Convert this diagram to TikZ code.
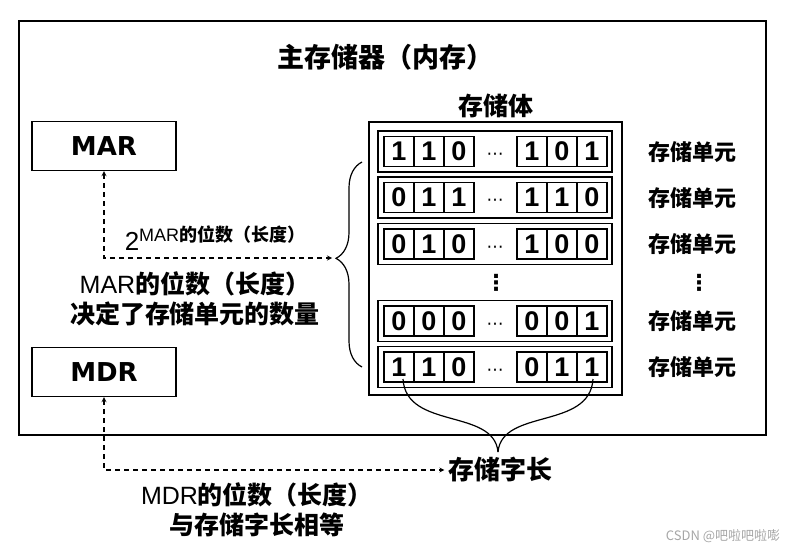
\documentclass[tikz,border=0pt]{standalone}
\usepackage{fontspec}
\setmainfont{Noto Sans CJK SC}
\newfontfamily\lat{Liberation Sans}
\newfontfamily\verd{DejaVu Sans}
\usetikzlibrary{positioning,decorations.pathreplacing,arrows}
\tikzstyle{reg} = [rectangle, minimum width=144pt, minimum height=49pt, text centered, draw=black, line width=1.3pt, font=\verd\bfseries\fontsize{26}{26}\selectfont]
\tikzstyle{rowbox} = [rectangle, minimum width=234pt, minimum height=41pt, draw=black, line width=1.3pt]
\tikzstyle{bit} = [rectangle, minimum width=30pt, minimum height=30pt, inner sep=0pt, draw=black, line width=1.6pt, font=\lat\bfseries\fontsize{27}{27}\selectfont]
\tikzstyle{unit} = [font=\bfseries\fontsize{22}{22}\selectfont]
\tikzstyle{txt} = [font=\bfseries\fontsize{25}{30}\selectfont, align=center]
\tikzstyle{dotsym} = [font=\verd\fontsize{17}{17}\selectfont, inner sep=0pt, yshift=-5pt]
\tikzstyle{vdotsym} = [font=\verd\bfseries\fontsize{22}{22}\selectfont, inner sep=0pt]
\tikzstyle{arrow} = [line width=1.2pt, dash pattern=on 5pt off 4pt, <->, >=stealth]

\begin{document}
\begin{tikzpicture}[x=1pt, y=-1pt, node distance=30pt]
\useasboundingbox (0,0) rectangle (801,551);
\node (mem) [rectangle, draw=black, line width=1.8pt, minimum width=747pt, minimum height=414pt] at (392.5,228) {};
\node (title) [txt, font=\bfseries\fontsize{27}{27}\selectfont] at (385,57) {主存储器（内存）};
\node (mar) [reg] at (104,146) {MAR};
\node (mdr) [reg] at (104,372) {MDR};
\node (body) [rectangle, draw=black, line width=1.6pt, minimum width=253pt, minimum height=273pt] at (495.5,258.5) {};
\node (bodyname) [txt] at (496,106) {存储体};

% rows of the storage body
\node (row1) [rowbox] at (495,151.5) {};
\node (r1a) [bit] at (399,151.5) {1};
\node (r1b) [bit, right of=r1a] {1};
\node (r1c) [bit, right of=r1b] {0};
\node (r1d) [bit] at (532,151.5) {1};
\node (r1e) [bit, right of=r1d] {0};
\node (r1f) [bit, right of=r1e] {1};
\node (r1dots) [dotsym] at (row1) {⋯};
\node (u1) [unit] at (692,152) {存储单元};

\node (row2) [rowbox] at (495,197.5) {};
\node (r2a) [bit] at (399,197.5) {0};
\node (r2b) [bit, right of=r2a] {1};
\node (r2c) [bit, right of=r2b] {1};
\node (r2d) [bit] at (532,197.5) {1};
\node (r2e) [bit, right of=r2d] {1};
\node (r2f) [bit, right of=r2e] {0};
\node (r2dots) [dotsym] at (row2) {⋯};
\node (u2) [unit] at (692,198) {存储单元};

\node (row3) [rowbox] at (495,244) {};
\node (r3a) [bit] at (399,244) {0};
\node (r3b) [bit, right of=r3a] {1};
\node (r3c) [bit, right of=r3b] {0};
\node (r3d) [bit] at (532,244) {1};
\node (r3e) [bit, right of=r3d] {0};
\node (r3f) [bit, right of=r3e] {0};
\node (r3dots) [dotsym] at (row3) {⋯};
\node (u3) [unit] at (692,244) {存储单元};

\node (vd1) [vdotsym] at (496,283) {⋮};
\node (vd2) [vdotsym] at (699,283) {⋮};

\node (row4) [rowbox] at (495,321) {};
\node (r4a) [bit] at (399,321) {0};
\node (r4b) [bit, right of=r4a] {0};
\node (r4c) [bit, right of=r4b] {0};
\node (r4d) [bit] at (532,321) {0};
\node (r4e) [bit, right of=r4d] {0};
\node (r4f) [bit, right of=r4e] {1};
\node (r4dots) [dotsym] at (row4) {⋯};
\node (u4) [unit] at (692,321) {存储单元};

\node (row5) [rowbox] at (495,367) {};
\node (r5a) [bit] at (399,367) {1};
\node (r5b) [bit, right of=r5a] {1};
\node (r5c) [bit, right of=r5b] {0};
\node (r5d) [bit] at (532,367) {0};
\node (r5e) [bit, right of=r5d] {1};
\node (r5f) [bit, right of=r5e] {1};
\node (r5dots) [dotsym] at (row5) {⋯};
\node (u5) [unit] at (692,367) {存储单元};

% labels
\node (pow) at (215,238) {{\lat\fontsize{26}{26}\selectfont 2}\raisebox{9pt}{\bfseries\fontsize{18}{18}\selectfont{\lat\mdseries MAR}的位数（长度）}};
\node (marnote) [txt] at (195,299) {{\lat\mdseries MAR}的位数（长度）\\决定了存储单元的数量};
\node (wordlen) [txt, font=\bfseries\fontsize{26}{26}\selectfont] at (500,470) {存储字长};
\node (mdrnote) [txt] at (257,510) {{\lat\mdseries MDR}的位数（长度）\\与存储字长相等};
\node (mark) [text=black!35, font=\fontsize{13}{13}\selectfont] at (723,536) {CSDN @吧啦吧啦嘭};

% braces
\coordinate (btip) at (332,258);
\draw [line width=1.2pt, decorate, decoration={brace, amplitude=26pt, aspect=0.53}] (362,367) -- (362,162);
\coordinate (wl) at (403,379);
\coordinate (wr) at (593,379);
\coordinate (wtip) at (498,452);
\draw [line width=1.2pt] (wl) .. controls (406,430) and (494,408) .. (wtip);
\draw [line width=1.2pt] (wr) .. controls (590,430) and (502,408) .. (wtip);

% dashed arrows
\draw [arrow] (mar.south) |- (btip);
\draw [arrow] (mdr.south) |- (wordlen.west);
\end{tikzpicture}
\end{document}
